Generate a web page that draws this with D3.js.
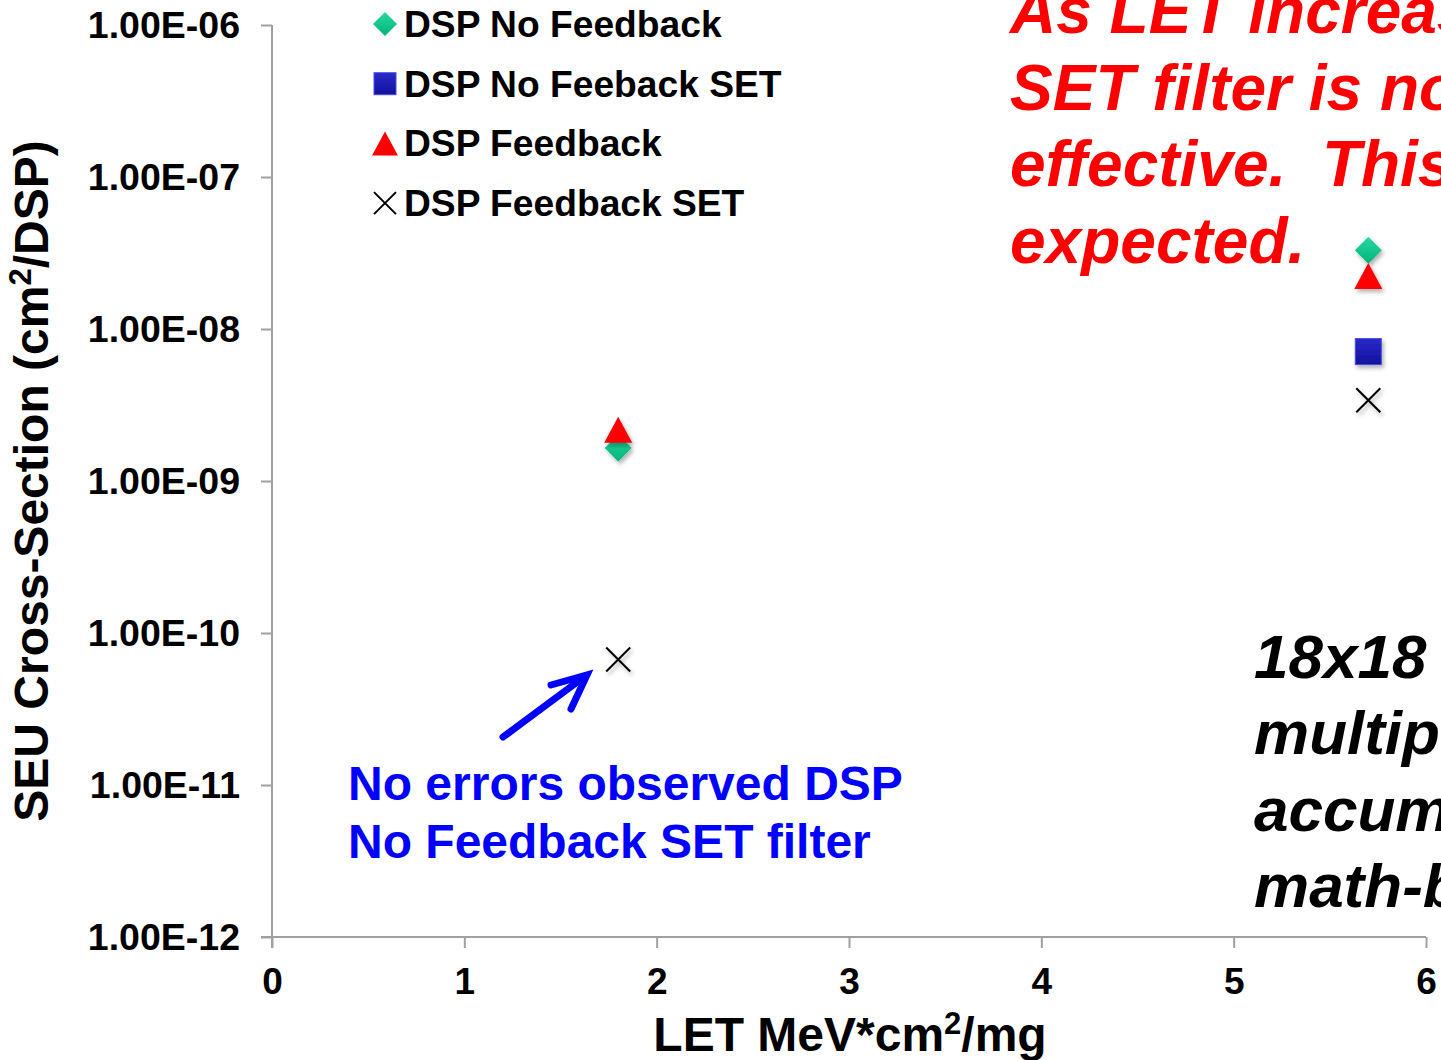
<!DOCTYPE html>
<html>
<head>
<meta charset="utf-8">
<script src="https://cdn.jsdelivr.net/npm/d3@7"></script>
<style>
  html, body { margin: 0; padding: 0; background: #fff; overflow: hidden; }
  svg { display: block; font-family: "Liberation Sans", Arial, sans-serif; }
  text { white-space: pre; }
</style>
</head>
<body>
<svg id="chart" width="1441" height="1060"></svg>
<script>
// ---- data ----
const letValues = [1.8, 5.7];
const seriesNames = ["DSP No Feedback", "DSP No Feeback SET", "DSP Feedback", "DSP Feedback SET"];
const noFeedback = [1.65e-9, 3.3e-8];
const noFeedbackSET = [null, 7.1e-9];
const feedback = [2.17e-9, 2.23e-8];
const feedbackSET = [6.7e-11, 3.4e-9];
const xTicks = [0, 1, 2, 3, 4, 5, 6];
const yTicks = [1e-12, 1e-11, 1e-10, 1e-9, 1e-8, 1e-7, 1e-6];
const yTickLabels = ["1.00E-12", "1.00E-11", "1.00E-10", "1.00E-09", "1.00E-08", "1.00E-07", "1.00E-06"];
const redNote = ["As LET increases the", "SET filter is not as", "effective.  This is", "expected."];
const blackNote = ["18x18 DSP", "multiplier", "accumulator", "math-block"];
const blueNote = ["No errors observed DSP", "No Feedback SET filter"];

const svg = d3.select("#chart");
const x = d3.scaleLinear().domain([0, 6]).range([272, 1426]);
const y = d3.scaleLog().domain([1e-12, 1e-6]).range([937, 25]);

// shadow filter
const defs = svg.append("defs");
const f = defs.append("filter").attr("id", "sh").attr("x", "-50%").attr("y", "-50%").attr("width", "200%").attr("height", "200%");
f.append("feDropShadow").attr("dx", 2).attr("dy", 3).attr("stdDeviation", 2).attr("flood-color", "#000").attr("flood-opacity", 0.3);
const gg = defs.append("linearGradient").attr("id", "gGreen").attr("x1", 0).attr("y1", 0).attr("x2", 0).attr("y2", 1);
gg.append("stop").attr("offset", 0).attr("stop-color", "#2ad9a0");
gg.append("stop").attr("offset", 1).attr("stop-color", "#00b37a");
const gb = defs.append("linearGradient").attr("id", "gBlue").attr("x1", 0).attr("y1", 0).attr("x2", 0).attr("y2", 1);
gb.append("stop").attr("offset", 0).attr("stop-color", "#2a2ac8");
gb.append("stop").attr("offset", 1).attr("stop-color", "#10109e");

// axes
const gridColor = "#a0a0a0";
const yAxis = d3.axisLeft(y).tickValues(yTicks).tickSize(11).tickFormat((d, i) => yTickLabels[i]);
const gy = svg.append("g").attr("transform", "translate(272,0)").call(yAxis);
gy.select(".domain").attr("stroke", gridColor).attr("stroke-width", 2).attr("d", "M0,25V948");
gy.selectAll(".tick line").attr("stroke", gridColor).attr("stroke-width", 2);
gy.selectAll(".tick text").attr("x", -32).attr("font-size", 37.5).attr("font-weight", "bold")
  .attr("fill", "#000").attr("font-family", "Liberation Sans, Arial, sans-serif");

const xAxis = d3.axisBottom(x).tickValues(xTicks).tickSize(11).tickFormat(d3.format("d"));
const gx = svg.append("g").attr("transform", "translate(0,937)").call(xAxis);
gx.select(".domain").attr("stroke", gridColor).attr("stroke-width", 2).attr("d", "M261,0H1426");
gx.selectAll(".tick line").attr("stroke", gridColor).attr("stroke-width", 2);
gx.selectAll(".tick text").attr("y", 31).attr("dy", "0.71em").attr("font-size", 37).attr("font-weight", "bold")
  .attr("fill", "#000").attr("font-family", "Liberation Sans, Arial, sans-serif");

// axis titles
const xt = svg.append("text").attr("x", 850).attr("y", 1051).attr("text-anchor", "middle")
  .attr("font-size", 48).attr("font-weight", "bold").attr("fill", "#000");
xt.append("tspan").text("LET MeV*cm");
xt.append("tspan").attr("font-size", 31).attr("dy", -17).text("2");
xt.append("tspan").attr("dy", 17).text("/mg");

const yt = svg.append("text").attr("transform", "translate(48,481) rotate(-90)").attr("text-anchor", "middle")
  .attr("font-size", 48).attr("font-weight", "bold").attr("fill", "#000");
yt.append("tspan").text("SEU Cross-Section (cm");
yt.append("tspan").attr("font-size", 31).attr("dy", -17).text("2");
yt.append("tspan").attr("dy", 17).text("/DSP)");

// marker drawers
function diamond(g, s) { g.append("path").attr("d", `M0,${-s}L${s},0L0,${s}L${-s},0Z`).attr("fill", "url(#gGreen)"); }
function square(g, s) { g.append("rect").attr("x", -s).attr("y", -s).attr("width", 2 * s).attr("height", 2 * s).attr("fill", "url(#gBlue)").attr("stroke", "#4a4ae0").attr("stroke-width", 1); }
function triangle(g, s) { g.append("path").attr("d", `M0,${-s}L${s * 1.08},${s}L${-s * 1.08},${s}Z`).attr("fill", "#ff0000"); }
function cross(g, s) { g.append("path").attr("d", `M${-s},${-s}L${s},${s}M${s},${-s}L${-s},${s}`).attr("stroke", "#000").attr("stroke-width", 2).attr("fill", "none"); }

const series = [
  { name: seriesNames[0], vals: noFeedback, draw: diamond, size: 13.5, lsize: 12 },
  { name: seriesNames[1], vals: noFeedbackSET, draw: square, size: 13, lsize: 11 },
  { name: seriesNames[2], vals: feedback, draw: triangle, size: 13, lsize: 12 },
  { name: seriesNames[3], vals: feedbackSET, draw: cross, size: 12, lsize: 11 },
];

// draw points (feedback triangles over diamonds)
const order = [3, 1, 0, 2];
order.forEach(si => {
  const s = series[si];
  s.vals.forEach((v, i) => {
    if (v == null) return;
    const g = svg.append("g").attr("transform", `translate(${x(letValues[i])},${y(v)})`).attr("filter", "url(#sh)");
    s.draw(g, s.size);
  });
});

// legend
series.forEach((s, i) => {
  const cy = 24 + i * 59.7;
  const g = svg.append("g").attr("transform", `translate(385,${cy})`);
  s.draw(g, s.lsize);
  svg.append("text").attr("x", 404).attr("y", cy + 13).attr("font-size", 37.2).attr("font-weight", "bold").attr("fill", "#000").text(s.name);
});

// red note
redNote.forEach((t, i) => {
  svg.append("text").attr("x", 1010).attr("y", 33 + i * 76.7).attr("font-size", 64).attr("font-weight", "bold")
    .attr("font-style", "italic").attr("fill", "#ff0000").text(t);
});
// black note
blackNote.forEach((t, i) => {
  svg.append("text").attr("x", 1254).attr("y", 678 + i * 76.3).attr("font-size", 62).attr("font-weight", "bold")
    .attr("font-style", "italic").attr("fill", "#000").text(t);
});
// blue note
blueNote.forEach((t, i) => {
  svg.append("text").attr("x", 348).attr("y", 800 + i * 58).attr("font-size", 48).attr("font-weight", "bold")
    .attr("fill", "#0000ff").text(t);
});
// arrow
svg.append("path").attr("d", "M503,737L584,677").attr("stroke", "#0000ff").attr("stroke-width", 7).attr("stroke-linecap", "round").attr("fill", "none");
svg.append("path").attr("d", "M551,685L587,675L571,709").attr("stroke", "#0000ff").attr("stroke-width", 7)
  .attr("stroke-linecap", "round").attr("stroke-linejoin", "miter").attr("fill", "none");
</script>
</body>
</html>
